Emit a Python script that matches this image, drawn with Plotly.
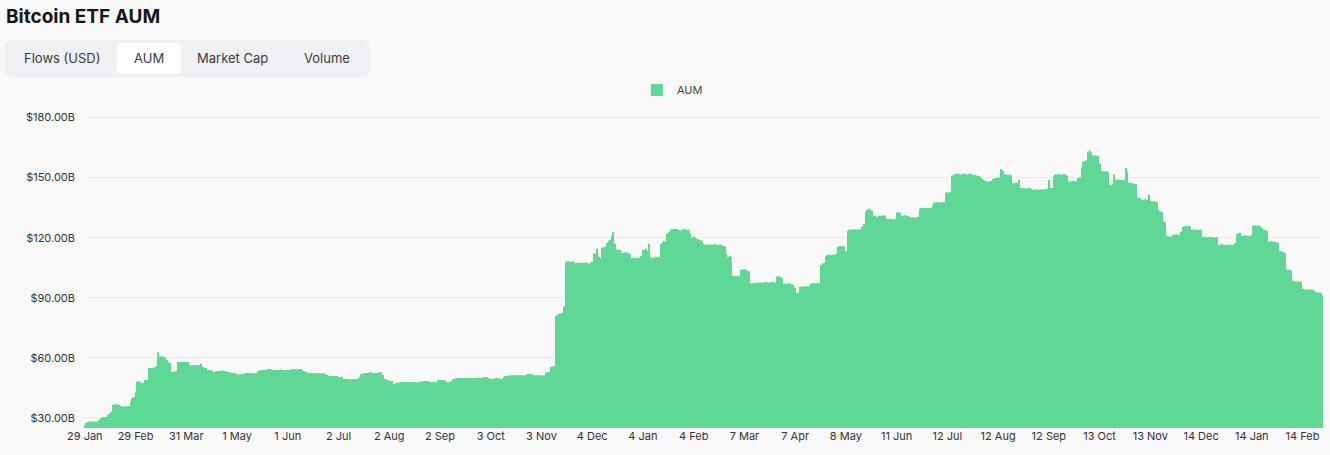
import pandas as pd
import plotly.graph_objects as go

# ---------------- data (daily AUM, $B) ----------------
aum_2024_01 = [26.5, 27.5, 28.0]
aum_2024_02 = [28.2, 28.3, 28.3, 28.3, 28.0, 28.5, 29.5, 30.0, 30.5, 30.5, 30.5, 31.5, 32.0, 33.0,
               36.5, 36.8, 36.8, 36.8, 36.5, 36.0, 35.5, 35.8, 35.8, 35.8, 35.8, 38.0, 40.0, 40.5, 43.0]
aum_2024_03 = [48.2, 48.2, 48.2, 47.5, 47.5, 49.0, 49.0, 55.0, 55.0, 55.0, 55.0, 55.5, 56.0, 62.7,
               60.7, 60.7, 60.7, 60.2, 59.0, 58.0, 57.5, 53.0, 53.0, 53.0, 53.5, 58.0, 58.0, 58.0,
               58.0, 58.0, 58.0]
aum_2024_04 = [58.0, 56.5, 56.0, 56.5, 56.5, 56.5, 56.5, 56.3, 57.2, 55.5, 55.0, 55.0, 54.0, 54.0,
               53.8, 53.5, 53.0, 53.5, 53.5, 53.5, 53.5, 53.8, 53.5, 53.3, 53.0, 53.0, 52.8, 52.5,
               52.5, 52.5]
aum_2024_05 = [52.0, 51.5, 52.0, 52.0, 52.0, 52.3, 52.5, 52.5, 52.5, 52.3, 52.3, 52.3, 52.5, 53.5,
               53.8, 54.0, 54.0, 54.0, 54.0, 54.5, 54.5, 54.3, 54.0, 54.0, 54.0, 54.0, 54.0, 54.2,
               54.0, 54.0, 54.0]
aum_2024_06 = [54.0, 54.0, 54.2, 54.5, 54.5, 54.3, 54.3, 54.3, 54.5, 54.0, 53.5, 53.0, 52.8, 52.5,
               52.5, 52.5, 52.5, 52.3, 52.5, 52.5, 52.3, 52.3, 52.3, 52.0, 51.5, 51.0, 51.0, 51.0,
               51.0, 51.0]
aum_2024_07 = [51.0, 50.5, 50.3, 50.5, 49.5, 49.5, 49.5, 49.5, 49.5, 49.3, 49.5, 49.5, 49.5, 49.7,
               50.5, 52.0, 52.3, 52.5, 52.5, 52.5, 52.8, 52.8, 52.5, 52.5, 52.5, 52.5, 52.8, 52.8,
               51.5, 49.5, 49.3]
aum_2024_08 = [49.0, 48.5, 48.5, 48.5, 47.0, 47.3, 47.5, 47.8, 48.0, 48.0, 48.0, 47.8, 47.8, 48.0,
               48.0, 48.0, 48.0, 48.0, 47.8, 48.0, 48.2, 48.2, 48.5, 48.5, 48.5, 48.2, 48.0, 47.8,
               48.0, 48.0, 48.0]
aum_2024_09 = [49.0, 49.0, 49.0, 48.8, 48.8, 48.0, 47.8, 48.0, 48.3, 49.5, 49.5, 49.8, 50.0, 50.0,
               50.0, 49.8, 49.8, 49.8, 50.0, 50.0, 50.0, 50.0, 49.8, 50.0, 50.2, 50.0, 50.0, 50.0,
               50.5, 50.5]
aum_2024_10 = [50.5, 49.8, 49.5, 49.5, 49.8, 49.8, 49.8, 49.8, 49.5, 49.5, 50.5, 51.0, 51.0, 51.2,
               51.3, 51.3, 51.3, 51.3, 51.3, 51.5, 51.3, 51.3, 51.2, 51.3, 52.0, 52.0, 52.0, 51.8,
               51.3, 51.3, 51.3]
aum_2024_11 = [51.3, 51.2, 51.2, 51.2, 51.3, 52.8, 52.8, 53.0, 55.5, 55.7, 56.0, 81.0, 81.5, 82.0,
               82.3, 82.5, 85.7, 108.0, 108.3, 108.0, 108.0, 108.3, 107.5, 107.3, 107.5, 107.5,
               107.5, 107.3, 107.5, 107.5]
aum_2024_12 = [107.5, 107.0, 107.5, 108.0, 112.3, 112.0, 114.5, 110.5, 110.0, 115.0, 115.3, 115.5,
               117.5, 118.5, 119.0, 121.0, 122.8, 117.0, 114.0, 114.0, 114.0, 112.5, 112.5, 112.8,
               112.5, 112.3, 112.0, 110.0, 110.0, 109.8, 110.0]
aum_2025_01 = [110.0, 110.0, 111.0, 114.0, 114.0, 114.5, 113.5, 117.0, 110.0, 110.0, 110.0, 110.5,
               110.0, 110.5, 117.0, 118.0, 118.5, 118.0, 122.0, 123.0, 124.0, 124.5, 124.3, 124.5,
               124.3, 124.0, 123.5, 124.0, 124.5, 124.0, 124.0]
aum_2025_02 = [124.0, 122.0, 120.0, 120.5, 120.0, 119.5, 119.0, 119.0, 118.5, 117.0, 116.5, 116.5,
               116.5, 116.8, 116.5, 116.5, 116.8, 116.5, 116.3, 116.5, 116.5, 116.0, 115.8, 112.0,
               110.5, 110.7, 110.0, 101.0]
aum_2025_03 = [100.7, 100.7, 101.0, 100.5, 104.0, 104.0, 104.3, 104.0, 103.5, 103.0, 97.3, 97.0,
               97.5, 97.3, 97.5, 97.7, 97.7, 97.5, 97.7, 98.0, 97.7, 97.7, 97.7, 98.0, 97.7, 97.5,
               100.5, 100.7, 100.5, 100.0, 97.0]
aum_2025_04 = [97.0, 97.0, 97.3, 97.0, 96.8, 96.5, 95.0, 92.3, 92.5, 95.5, 95.7, 95.7, 95.7, 95.8,
               95.5, 95.7, 97.0, 97.3, 97.3, 97.3, 97.5, 97.3, 106.5, 107.3, 107.5, 111.0, 111.5,
               111.5, 111.3, 111.5]
aum_2025_05 = [111.5, 112.0, 115.5, 115.7, 115.7, 115.5, 115.7, 113.2, 123.5, 124.0, 124.0, 124.0,
               124.3, 124.0, 124.0, 124.2, 124.0, 125.5, 127.0, 133.0, 134.0, 134.5, 134.0, 133.5,
               131.0, 131.0, 130.5, 131.0]
aum_2025_06 = [131.0, 131.0, 131.2, 131.0, 129.3, 129.3, 129.5, 129.3, 129.0, 129.5, 132.5, 132.8,
               132.5, 131.0, 131.0, 131.2, 131.0, 130.8, 130.2, 130.0, 130.2, 130.2, 130.0, 130.5,
               134.5, 134.8, 134.8, 135.0, 134.8, 134.8]
aum_2025_07 = [134.8, 135.0, 136.0, 137.5, 137.7, 137.7, 137.7, 137.5, 137.7, 138.0, 142.5, 142.7,
               142.7, 143.0, 151.0, 151.5, 151.8, 152.0, 151.8, 151.5, 151.8, 152.0, 151.8, 151.5,
               151.8, 152.0, 151.5, 151.0, 151.3, 151.0, 150.8]
aum_2025_08 = [150.5, 149.5, 149.0, 148.5, 148.2, 148.0, 148.2, 148.5, 149.5, 149.8, 149.8, 150.0,
               150.0, 154.3, 153.5, 151.5, 151.5, 151.3, 151.5, 151.0, 147.3, 147.0, 147.5, 147.3,
               149.0, 145.0, 144.8, 144.8, 144.5, 144.8, 144.8]
aum_2025_09 = [144.5, 144.0, 144.0, 144.2, 144.0, 144.0, 144.2, 144.0, 144.3, 144.0, 144.5, 149.0,
               145.0, 144.8, 150.5, 151.5, 151.5, 151.8, 151.5, 151.5, 151.8, 151.5, 151.0, 148.2,
               148.0, 148.2, 148.5, 148.2, 148.2, 149.8]
aum_2025_10 = [150.0, 155.0, 158.0, 158.2, 158.5, 163.0, 163.5, 162.5, 161.0, 161.0, 160.8, 161.0,
               157.0, 153.5, 153.2, 153.0, 153.2, 153.0, 146.5, 146.5, 146.8, 151.5, 149.0, 149.2,
               149.0, 149.0, 148.8, 149.0, 154.8, 153.0, 147.5]
aum_2025_11 = [147.3, 147.5, 147.0, 146.8, 140.0, 139.8, 139.8, 139.0, 139.0, 139.2, 139.0, 141.5,
               138.5, 138.2, 138.2, 138.0, 138.0, 134.0, 133.2, 133.0, 128.2, 128.0, 121.0, 120.7,
               120.5, 120.7, 121.5, 121.5, 121.8, 121.5]
aum_2025_12 = [121.5, 123.0, 125.5, 125.7, 125.7, 126.0, 125.7, 124.0, 124.0, 124.2, 124.0, 123.8,
               124.0, 124.0, 120.5, 120.3, 120.3, 120.0, 120.3, 120.5, 120.3, 120.3, 120.0, 120.3,
               116.5, 116.5, 116.8, 116.5, 116.3, 116.5, 116.5]
aum_2026_01 = [116.5, 116.3, 116.5, 117.3, 122.0, 122.3, 122.5, 121.0, 121.0, 121.2, 121.0, 121.0,
               120.8, 121.5, 126.0, 126.2, 126.0, 126.0, 125.8, 125.0, 124.0, 124.0, 123.5, 118.0,
               118.0, 118.2, 118.0, 117.8, 118.0, 117.5, 113.2]
aum_2026_02 = [113.2, 113.0, 112.5, 104.5, 104.0, 104.0, 103.8, 98.5, 98.2, 98.2, 98.0, 98.2, 98.0,
               94.5, 94.0, 94.0, 94.2, 94.0, 94.2, 94.0, 93.8, 92.7, 92.8, 92.7, 92.5, 91.0]

aum_values = (aum_2024_01 + aum_2024_02 + aum_2024_03 + aum_2024_04 + aum_2024_05 + aum_2024_06
              + aum_2024_07 + aum_2024_08 + aum_2024_09 + aum_2024_10 + aum_2024_11 + aum_2024_12
              + aum_2025_01 + aum_2025_02 + aum_2025_03 + aum_2025_04 + aum_2025_05 + aum_2025_06
              + aum_2025_07 + aum_2025_08 + aum_2025_09 + aum_2025_10 + aum_2025_11 + aum_2025_12
              + aum_2026_01 + aum_2026_02)

# daily categories (three days missing in the source data in late May 2025)
missing_days = ["2025-05-25", "2025-05-26", "2025-05-27"]
all_days = pd.date_range("2024-01-29", "2026-02-26", freq="D")
categories = [d.strftime("%Y-%m-%d") for d in all_days if d.strftime("%Y-%m-%d") not in missing_days]
categories = categories[:len(aum_values)]

x_tick_labels = ["29 Jan", "29 Feb", "31 Mar", "1 May", "1 Jun", "2 Jul", "2 Aug", "2 Sep", "3 Oct",
                 "3 Nov", "4 Dec", "4 Jan", "4 Feb", "7 Mar", "7 Apr", "8 May", "11 Jun", "12 Jul",
                 "12 Aug", "12 Sep", "13 Oct", "13 Nov", "14 Dec", "14 Jan", "14 Feb"]
x_tick_step = 31
y_tick_values = [30, 60, 90, 120, 150, 180]
y_tick_labels = ["$30.00B", "$60.00B", "$90.00B", "$120.00B", "$150.00B", "$180.00B"]
tabs = ["Flows (USD)", "AUM", "Market Cap", "Volume"]

# ---------------- layout geometry (screen pixels) ----------------
FIG_W, FIG_H = 1330, 455
n = len(aum_values)
FIRST_BAR = 85
R = 1323
SLOT = (R - FIRST_BAR) / (n - 0.5)
L = FIRST_BAR - SLOT / 2
T, B = 100, 428
W, H = R - L, B - T
BG = "#f9f9f9"
FONT = "Inter, Roboto, 'Noto Sans', sans-serif"


def pxx(p):
    return (p - L) / W


def pxy(p):
    return (B - p) / H


def rounded(x0, y0, x1, y1, r):
    pts = [
        ("M", (x0 + r, y0)), ("L", (x1 - r, y0)), ("Q", (x1, y0), (x1, y0 + r)),
        ("L", (x1, y1 - r)), ("Q", (x1, y1), (x1 - r, y1)), ("L", (x0 + r, y1)),
        ("Q", (x0, y1), (x0, y1 - r)), ("L", (x0, y0 + r)), ("Q", (x0, y0), (x0 + r, y0)),
    ]
    s = ""
    for cmd, *ps in pts:
        s += cmd + " " + " ".join(f"{pxx(a):.5f},{pxy(b):.5f}" for a, b in ps) + " "
    return s + "Z"


fig = go.Figure()
fig.add_trace(go.Bar(
    x=categories, y=aum_values, name="AUM",
    marker=dict(color="#5fd895", line=dict(width=0)),
    showlegend=True,
))

tickvals = categories[::x_tick_step][:len(x_tick_labels)]

annotations = [
    dict(text="<b>Bitcoin ETF AUM</b>", x=pxx(4), y=pxy(16), xref="paper", yref="paper",
         xanchor="left", yanchor="middle", showarrow=False,
         font=dict(family=FONT, size=19, color="#151515")),
]
tab_centers = [62, 149, 233, 327]
for label, cx in zip(tabs, tab_centers):
    annotations.append(dict(text=label, x=pxx(cx), y=pxy(58), xref="paper", yref="paper",
                            xanchor="center", yanchor="middle", showarrow=False,
                            font=dict(family=FONT, size=13, color="#3c3c3c")))

shapes = [
    dict(type="path", path=rounded(5, 40, 370, 77, 7), xref="paper", yref="paper",
         fillcolor="#eef0f3", line=dict(width=0), layer="below"),
    dict(type="path", path=rounded(117, 43, 181, 74, 5), xref="paper", yref="paper",
         fillcolor="#ffffff", line=dict(width=0), layer="below"),
]

fig.update_layout(
    width=FIG_W, height=FIG_H,
    margin=dict(l=L, r=FIG_W - R, t=T, b=FIG_H - B, pad=0),
    paper_bgcolor=BG, plot_bgcolor=BG,
    font=dict(family=FONT, size=11, color="#333333"),
    bargap=0.35,
    showlegend=True,
    legend=dict(orientation="h", x=pxx(637), y=pxy(90), xanchor="left", yanchor="middle",
                font=dict(size=11, color="#444444"), bgcolor="rgba(0,0,0,0)", itemwidth=30),
    xaxis=dict(type="category", range=[-0.5, n - 0.5], tickmode="array", tickvals=tickvals,
               ticktext=x_tick_labels, showgrid=False, zeroline=False, showline=False,
               ticks="", tickfont=dict(size=11, color="#333333"), fixedrange=True),
    yaxis=dict(range=[25, 25 + (B - T) / 2.003], tickmode="array", tickvals=y_tick_values,
               ticktext=y_tick_labels, showgrid=True, gridcolor="#ebebeb", gridwidth=1,
               zeroline=False, showline=False, ticks="", ticklabelstandoff=8,
               tickfont=dict(size=11, color="#333333"), fixedrange=True),
    annotations=annotations,
    shapes=shapes,
)

fig.write_html(
    "out.html",
    config={"displayModeBar": False},
    post_script="document.body.style.margin='0';document.body.style.background='#f9f9f9';",
)
